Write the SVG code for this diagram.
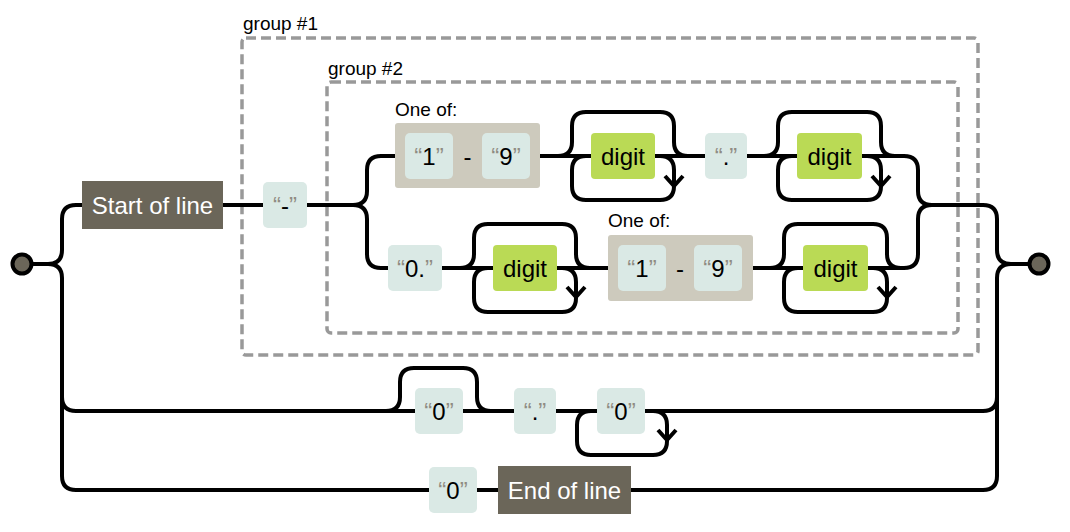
<svg xmlns="http://www.w3.org/2000/svg" width="1070" height="532" viewBox="0 0 1070 532">
<style>
  text { font-family: "Liberation Sans", Arial, sans-serif; }
  .box { font-size: 24px; fill: #000; text-anchor: middle; }
  .anchor-t { font-size: 24px; fill: #fff; text-anchor: middle; }
  .lbl { font-size: 19px; fill: #000; }
  .quote { fill: #908c83; }
  .lit { fill: #dae9e5; }
  .esc { fill: #bada55; }
  .cs { fill: #cdcabd; }
  .anc { fill: #6b6659; }
  .grp { fill: none; stroke: #999; stroke-width: 3.5; stroke-dasharray: 10 5; }
  .ln { fill: none; stroke: #000; stroke-width: 4; }
  .term { fill: #6b6659; stroke: #000; stroke-width: 4; }
</style>

<g id="group1">
  <rect class="grp" x="242" y="38" width="736" height="317" rx="4"/>
  <text class="lbl" x="243" y="30">group #1</text>
</g>
<g id="group2">
  <rect class="grp" x="327" y="82" width="631" height="251" rx="4"/>
  <text class="lbl" x="328" y="75">group #2</text>
</g>

<g id="connectors">
  <!-- left split -->
  <path class="ln" d="M31,264 H48 q14,0 14,-14 V219 q0,-14 14,-14 H82"/>
  <path class="ln" d="M48,264 q14,0 14,14 V397 q0,14 14,14 H983"/>
  <path class="ln" d="M62,397 V476 q0,14 14,14 H983"/>
  <!-- main row -->
  <path class="ln" d="M223,205 H263 M307,205 H353"/>
  <path class="ln" d="M353,205 q14,0 14,-14 V170 q0,-14 14,-14 H395"/>
  <path class="ln" d="M353,205 q14,0 14,14 V254 q0,14 14,14 H388"/>
  <!-- row 1 -->
  <path class="ln" d="M540,156 H591 M655,156 H705 M747,156 H797 M862,156 H904 q14,0 14,14 V191 q0,14 14,14"/>
  <path class="ln" d="M558,156 q14,0 14,-14 V126 q0,-14 14,-14 H660 q14,0 14,14 V142 q0,14 14,14"/>
  <path class="ln" d="M660,156 q14,0 14,14 V186 q0,14 -14,14 H586 q-14,0 -14,-14 V170 q0,-14 14,-14"/>
  <path class="ln" d="M665,176 L674,186 L683,176"/>
  <path class="ln" d="M764,156 q14,0 14,-14 V126 q0,-14 14,-14 H867 q14,0 14,14 V142 q0,14 14,14"/>
  <path class="ln" d="M867,156 q14,0 14,14 V186 q0,14 -14,14 H792 q-14,0 -14,-14 V170 q0,-14 14,-14"/>
  <path class="ln" d="M872,176 L881,186 L890,176"/>
  <!-- row 2 -->
  <path class="ln" d="M442,268 H493 M557,268 H608 M753,268 H803 M868,268 H904 q14,0 14,-14 V219 q0,-14 14,-14"/>
  <path class="ln" d="M460,268 q14,0 14,-14 V238 q0,-14 14,-14 H562 q14,0 14,14 V254 q0,14 14,14"/>
  <path class="ln" d="M562,268 q14,0 14,14 V298 q0,14 -14,14 H488 q-14,0 -14,-14 V282 q0,-14 14,-14"/>
  <path class="ln" d="M567,287 L576,297 L585,287"/>
  <path class="ln" d="M770,268 q14,0 14,-14 V238 q0,-14 14,-14 H873 q14,0 14,14 V254 q0,14 14,14"/>
  <path class="ln" d="M873,268 q14,0 14,14 V298 q0,14 -14,14 H798 q-14,0 -14,-14 V282 q0,-14 14,-14"/>
  <path class="ln" d="M878,287 L887,297 L896,287"/>
  <!-- right merge -->
  <path class="ln" d="M932,205 H983 q14,0 14,14 V250 q0,14 14,14 H1030"/>
  <path class="ln" d="M1011,264 q-14,0 -14,14 V397 q0,14 -14,14"/>
  <path class="ln" d="M997,397 V476 q0,14 -14,14"/>
  <!-- row 3 -->
  <path class="ln" d="M386,411 q14,0 14,-14 V382 q0,-14 14,-14 H463 q14,0 14,14 V397 q0,14 14,14"/>
  <path class="ln" d="M653,411 q14,0 14,14 V441 q0,14 -14,14 H591 q-14,0 -14,-14 V425 q0,-14 14,-14"/>
  <path class="ln" d="M658,430 L667,440 L676,430"/>
</g>

<g id="start">
  <circle class="term" cx="22" cy="264" r="9.5"/>
</g>
<g id="end">
  <circle class="term" cx="1039" cy="264" r="9.5"/>
</g>

<g id="start-of-line">
  <rect class="anc" x="82" y="181" width="141" height="48"/>
  <text class="anchor-t" x="152.5" y="213.5">Start of line</text>
</g>
<g id="lit-dash">
  <rect class="lit" x="263" y="182" width="44" height="46" rx="5"/>
  <text class="box" x="285" y="213.5"><tspan class="quote">“</tspan>-<tspan class="quote">”</tspan></text>
</g>

<g id="charset1">
  <text class="lbl" x="395" y="116">One of:</text>
  <rect class="cs" x="395" y="123" width="145" height="65" rx="3"/>
  <rect class="lit" x="405" y="133" width="48" height="46" rx="5"/>
  <text class="box" x="429" y="164.5"><tspan class="quote">“</tspan>1<tspan class="quote">”</tspan></text>
  <text class="box" x="467.5" y="164.5">-</text>
  <rect class="lit" x="482" y="133" width="48" height="46" rx="5"/>
  <text class="box" x="506" y="164.5"><tspan class="quote">“</tspan>9<tspan class="quote">”</tspan></text>
</g>
<g id="digit1">
  <rect class="esc" x="591" y="133" width="64" height="46" rx="4"/>
  <text class="box" x="623" y="164.5">digit</text>
</g>
<g id="lit-dot1">
  <rect class="lit" x="705" y="133" width="42" height="46" rx="5"/>
  <text class="box" x="726" y="164.5"><tspan class="quote">“</tspan>.<tspan class="quote">”</tspan></text>
</g>
<g id="digit2">
  <rect class="esc" x="797" y="133" width="65" height="46" rx="4"/>
  <text class="box" x="829.5" y="164.5">digit</text>
</g>

<g id="lit-0dot">
  <rect class="lit" x="388" y="245" width="54" height="46" rx="5"/>
  <text class="box" x="415" y="276.5"><tspan class="quote">“</tspan>0.<tspan class="quote">”</tspan></text>
</g>
<g id="digit3">
  <rect class="esc" x="493" y="245" width="64" height="46" rx="4"/>
  <text class="box" x="525" y="276.5">digit</text>
</g>
<g id="charset2">
  <text class="lbl" x="608" y="227">One of:</text>
  <rect class="cs" x="608" y="235" width="145" height="66" rx="3"/>
  <rect class="lit" x="618" y="245" width="48" height="46" rx="5"/>
  <text class="box" x="642" y="276.5"><tspan class="quote">“</tspan>1<tspan class="quote">”</tspan></text>
  <text class="box" x="680" y="276.5">-</text>
  <rect class="lit" x="694" y="245" width="48" height="46" rx="5"/>
  <text class="box" x="718" y="276.5"><tspan class="quote">“</tspan>9<tspan class="quote">”</tspan></text>
</g>
<g id="digit4">
  <rect class="esc" x="803" y="245" width="65" height="46" rx="4"/>
  <text class="box" x="835.5" y="276.5">digit</text>
</g>

<g id="lit-0a">
  <rect class="lit" x="415" y="388" width="48" height="46" rx="5"/>
  <text class="box" x="439" y="419.5"><tspan class="quote">“</tspan>0<tspan class="quote">”</tspan></text>
</g>
<g id="lit-dot2">
  <rect class="lit" x="514" y="388" width="42" height="46" rx="5"/>
  <text class="box" x="535" y="419.5"><tspan class="quote">“</tspan>.<tspan class="quote">”</tspan></text>
</g>
<g id="lit-0b">
  <rect class="lit" x="597" y="388" width="48" height="46" rx="5"/>
  <text class="box" x="621" y="419.5"><tspan class="quote">“</tspan>0<tspan class="quote">”</tspan></text>
</g>

<g id="lit-0c">
  <rect class="lit" x="429" y="467" width="48" height="46" rx="5"/>
  <text class="box" x="453" y="498.5"><tspan class="quote">“</tspan>0<tspan class="quote">”</tspan></text>
</g>
<g id="end-of-line">
  <rect class="anc" x="498" y="466" width="133" height="48"/>
  <text class="anchor-t" x="564.5" y="498.5">End of line</text>
</g>
</svg>
